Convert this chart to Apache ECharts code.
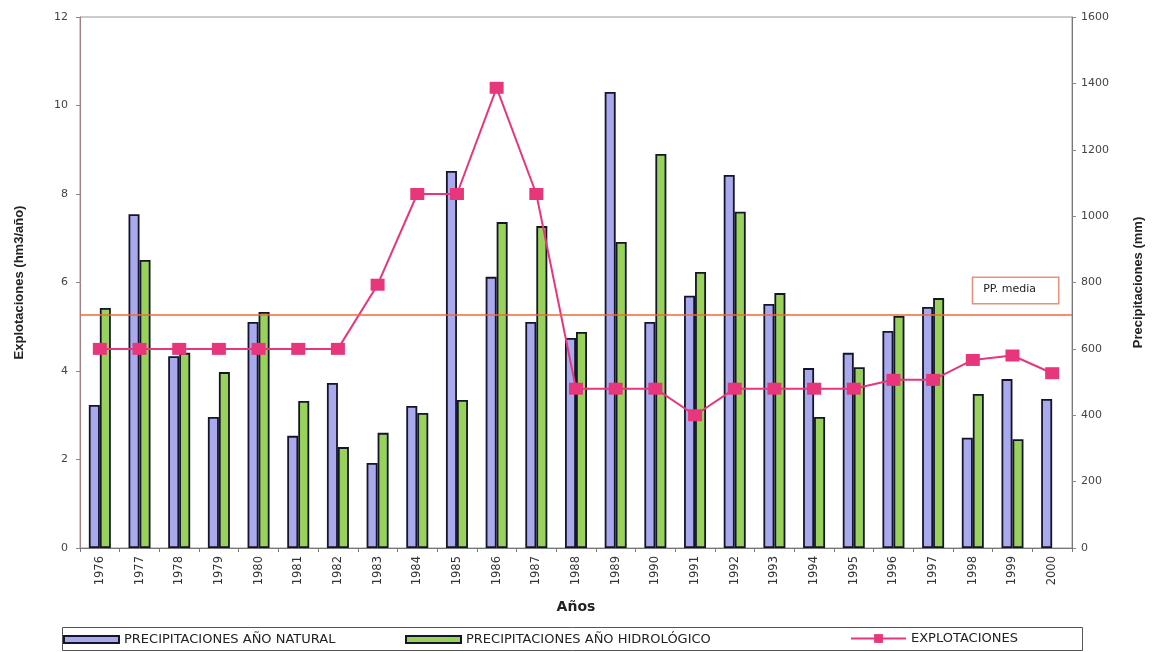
<!DOCTYPE html>
<html>
<head>
<meta charset="utf-8">
<script src="https://cdn.jsdelivr.net/npm/echarts@6/dist/echarts.min.js"></script>
<style>html,body{margin:0;padding:0;background:#fff}#c{width:1157px;height:652px}</style>
</head>
<body>
<div id="c"></div>
<script>
const years = ['1976','1977','1978','1979','1980','1981','1982','1983','1984','1985','1986','1987','1988','1989','1990','1991','1992','1993','1994','1995','1996','1997','1998','1999','2000'];
const ppNatural = [431,1006,578,395,681,338,497,256,428,1136,817,681,633,1374,681,760,1124,735,542,588,654,726,332,509,449];
const ppHidrologico = [723,868,588,530,711,443,304,347,407,446,982,970,651,922,1187,832,1013,768,395,545,699,753,464,328,null];
const explotaciones = [4.5,4.5,4.5,4.5,4.5,4.5,4.5,5.95,8.0,8.0,10.4,8.0,3.6,3.6,3.6,3.0,3.6,3.6,3.6,3.6,3.8,3.8,4.25,4.35,3.95];
const ppMedia = 702;
const leftTicks = [0, 12, 2];
const rightTicks = [0, 1600, 200];
const seriesNames = ['PRECIPITACIONES AÑO NATURAL', 'PRECIPITACIONES AÑO HIDROLÓGICO', 'EXPLOTACIONES'];

const chart = echarts.init(document.getElementById('c'));
const font = 'Liberation Sans, Arial, sans-serif';
const legendText = {fontFamily: 'DejaVu Sans, sans-serif', fontSize: 13, color: '#222'};
function leg(i, left) {
  const isLine = i === 2;
  return {
    left: left, top: isLine ? 632 : 633, padding: 0,
    itemWidth: 55, itemHeight: isLine ? 11 : 7, itemGap: 0,
    textStyle: legendText,
    data: [isLine ? {name: seriesNames[i]} : {name: seriesNames[i], icon: 'rect'}]
  };
}
chart.setOption({
  animation: false,
  backgroundColor: '#fff',
  grid: {left: 80, right: 85, top: 17, bottom: 104, show: true, borderColor: '#999', borderWidth: 1},
  legend: [leg(0, 63), leg(1, 405), leg(2, 850)],
  graphic: [{
    type: 'rect', left: 60, top: 625, silent: true,
    shape: {width: 1020, height: 23},
    style: {fill: 'none', stroke: '#555', lineWidth: 1}
  }],
  xAxis: {
    type: 'category', data: years, boundaryGap: true,
    name: 'Años', nameLocation: 'middle', nameGap: 52,
    nameTextStyle: {fontFamily: 'DejaVu Sans, sans-serif', fontWeight: 'bold', fontSize: 14, color: '#222'},
    axisLine: {lineStyle: {color: '#777', width: 1}},
    axisTick: {show: true, length: 4, lineStyle: {color: '#777'}},
    axisLabel: {rotate: 90, fontFamily: 'DejaVu Sans, sans-serif', fontSize: 11.5, color: '#333', margin: 8}
  },
  yAxis: [
    {
      type: 'value', min: leftTicks[0], max: leftTicks[1], interval: leftTicks[2],
      name: 'Explotaciones (hm3/año)', nameLocation: 'middle', nameRotate: 90, nameGap: 54,
      nameTextStyle: {fontFamily: font, fontWeight: 'bold', fontSize: 13, color: '#222'},
      axisLine: {show: true, lineStyle: {color: '#a08080'}},
      axisTick: {show: true, length: 4, lineStyle: {color: '#888'}},
      splitLine: {show: false},
      axisLabel: {fontFamily: 'DejaVu Sans, sans-serif', fontSize: 11, color: '#444', margin: 12}
    },
    {
      type: 'value', min: rightTicks[0], max: rightTicks[1], interval: rightTicks[2], position: 'right',
      name: 'Precipitaciones (mm)', nameLocation: 'middle', nameRotate: 90, nameGap: 60,
      nameTextStyle: {fontFamily: font, fontWeight: 'bold', fontSize: 13, color: '#222'},
      axisLine: {show: true, lineStyle: {color: '#777'}},
      axisTick: {show: true, length: 4, lineStyle: {color: '#888'}},
      splitLine: {show: false},
      axisLabel: {fontFamily: 'DejaVu Sans, sans-serif', fontSize: 11, color: '#444', margin: 9,
        formatter: function (v) { return String(v); }}
    }
  ],
  series: [
    {
      name: seriesNames[0], type: 'bar', yAxisIndex: 1, data: ppNatural,
      barWidth: 11, barGap: '0%',
      itemStyle: {color: '#a9a9ee', borderColor: '#15152a', borderWidth: 1.8},
      markLine: {
        silent: true, symbol: 'none',
        lineStyle: {color: '#ef6a3a', width: 1.5, type: 'solid'},
        label: {
          show: true, position: 'insideEndTop', formatter: 'PP. media',
          fontFamily: 'DejaVu Sans, sans-serif', fontSize: 11, color: '#222',
          backgroundColor: '#fff', borderColor: '#e8907a', borderWidth: 1.5,
          padding: [6, 22, 8, 10], distance: [14, 12]
        },
        data: [{yAxis: ppMedia}]
      }
    },
    {
      name: seriesNames[1], type: 'bar', yAxisIndex: 1, data: ppHidrologico,
      barWidth: 11, barGap: '0%',
      itemStyle: {color: '#98d25a', borderColor: '#15152a', borderWidth: 1.8}
    },
    {
      name: seriesNames[2], type: 'line', yAxisIndex: 0, data: explotaciones,
      symbol: 'rect', symbolSize: [14, 12],
      lineStyle: {color: '#e8367c', width: 2},
      itemStyle: {color: '#e8367c'}
    }
  ]
});
</script>
</body>
</html>
